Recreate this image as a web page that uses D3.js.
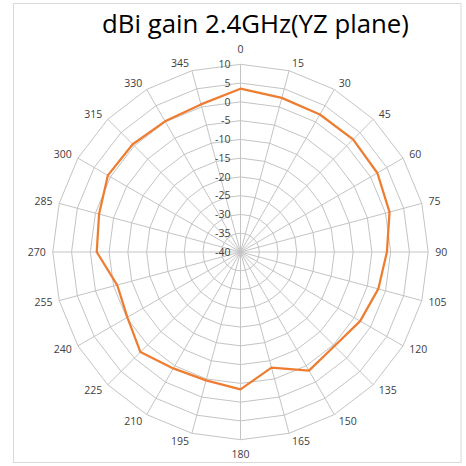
<!DOCTYPE html>
<html>
<head>
<meta charset="utf-8">
<script src="https://cdn.jsdelivr.net/npm/d3@7"></script>
<style>
  html, body { margin: 0; padding: 0; background: #fff; }
  svg { display: block; }
</style>
</head>
<body>
<svg id="chart" width="466" height="466"></svg>
<script>
// ---- data ----
const title = "dBi gain 2.4GHz(YZ plane)";
const angles = [0, 15, 30, 45, 60, 75, 90, 105, 120, 135, 150, 165, 180, 195, 210, 225, 240, 255, 270, 285, 300, 315, 330, 345];
const gain = [3.5, 2.5, 2.3, 2.4, 2.1, 1.1, -1.0, -2.0, -3.2, -4.6, -3.5, -8.1, -3.4, -4.6, -4.2, -2.3, -5.2, -6.0, -1.7, -1.0, 0.8, 0.6, 0.2, 0.7];
const radialTicks = [-40, -35, -30, -25, -20, -15, -10, -5, 0, 5, 10];

// ---- layout ----
const W = 466, H = 466;
const cx = 240.5, cy = 252;
const R = 187.7;
const fontFam = "'Open Sans', 'Noto Sans', 'Liberation Sans', sans-serif";
const textColor = "#404040";
const gridColor = "#c4c4c4";
const lineColor = "#ED7D31";

const svg = d3.select("#chart");

// chart border
svg.append("rect")
  .attr("x", 13.5).attr("y", 3.5)
  .attr("width", 447.5).attr("height", 459)
  .attr("fill", "#fff")
  .attr("stroke", "#d9d9d9").attr("stroke-width", 1);

const r = d3.scaleLinear().domain([-40, 10]).range([0, R]);
const ang = d3.scaleLinear().domain([0, 360]).range([0, 2 * Math.PI]);

const g = svg.append("g").attr("transform", `translate(${cx},${cy})`);

function pt(a, v) {
  const t = ang(a);
  return [Math.sin(t) * r(v), -Math.cos(t) * r(v)];
}

// rings (polygons)
const ringLine = d3.line().curve(d3.curveLinearClosed);
g.append("g").selectAll("path")
  .data(radialTicks.slice(1))
  .join("path")
  .attr("d", v => ringLine(angles.map(a => pt(a, v))))
  .attr("fill", "none")
  .attr("stroke", gridColor)
  .attr("stroke-width", 1);

// spokes
g.append("g").selectAll("line")
  .data(angles)
  .join("line")
  .attr("x1", 0).attr("y1", 0)
  .attr("x2", a => pt(a, 10)[0])
  .attr("y2", a => pt(a, 10)[1])
  .attr("stroke", gridColor)
  .attr("stroke-width", 1);

// data line
const dataLine = d3.lineRadial()
  .angle((d, i) => ang(angles[i]))
  .radius(d => r(d))
  .curve(d3.curveLinearClosed);
g.append("path")
  .datum(gain)
  .attr("d", dataLine)
  .attr("fill", "none")
  .attr("stroke", lineColor)
  .attr("stroke-width", 2.25)
  .attr("stroke-linejoin", "round");

// radial tick labels
g.append("g").selectAll("text")
  .data(radialTicks)
  .join("text")
  .attr("x", -10)
  .attr("y", v => -r(v))
  .attr("dy", "0.36em")
  .attr("text-anchor", "end")
  .attr("font-family", fontFam)
  .attr("font-size", 10.5)
  .attr("fill", textColor)
  .text(v => v);

// angle labels
const angLabels = g.append("g").selectAll("text")
  .data(angles)
  .join("text")
  .attr("text-anchor", "middle")
  .attr("dy", "0.36em")
  .attr("font-family", fontFam)
  .attr("font-size", 10.5)
  .attr("fill", textColor)
  .text(a => a);

angLabels.each(function(a) {
  const t = ang(a);
  const sx = Math.sin(t), sy = -Math.cos(t);
  const w = this.getComputedTextLength();
  const ex = sx * R, ey = sy * R;
  let x, y;
  if (Math.abs(sx) < 0.01) {
    x = ex; y = ey + Math.sign(sy) * 15;
  } else {
    x = ex + Math.sign(sx) * (w / 2 + 1.6 + 5.4 * Math.abs(sx));
    y = ey + 7.7 * sy;
  }
  d3.select(this).attr("x", x).attr("y", y);
});

// title
const tt = svg.append("text")
  .attr("x", 255.5)
  .attr("y", 32.5)
  .attr("text-anchor", "middle")
  .attr("font-family", fontFam)
  .attr("font-size", 26)
  .attr("fill", "#000")
  .text(title);
const tw = tt.node().getComputedTextLength();
tt.attr("font-size", 26 * 307 / tw);
</script>
</body>
</html>
